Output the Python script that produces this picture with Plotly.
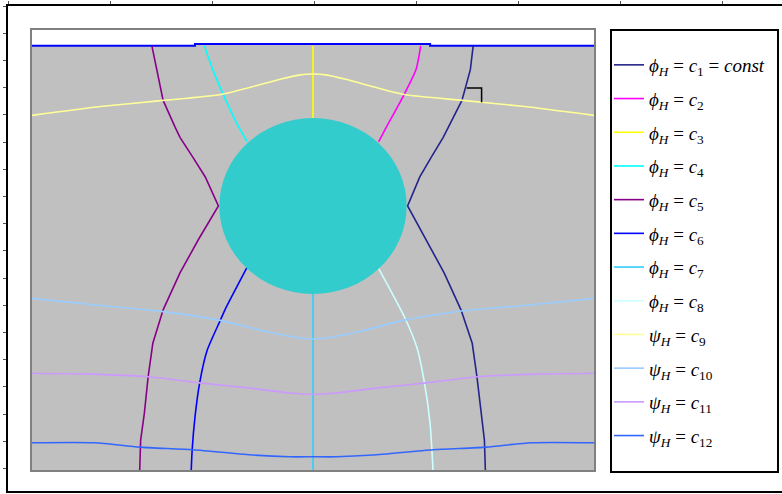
import plotly.graph_objects as go

# Field lines around a cylinder: phi_H = const (potential) and psi_H = const (stream)
# Coordinates are in units of the cylinder radius, centre at the origin.

PHI1_X = [1.71, 1.68, 1.59, 1.44, 1.39, 1.26, 1.14, 1.01, 1.20, 1.40, 1.58, 1.70, 1.75, 1.80, 1.83, 1.84]
PHI1_Y = [1.82, 1.55, 1.20, 0.89, 0.78, 0.55, 0.33, 0.00, -0.375, -0.76, -1.18, -1.56, -1.94, -2.35, -2.66, -3.0]

PHI2_X = [1.15, 1.10, 0.96, 0.78, 0.70]
PHI2_Y = [1.82, 1.55, 1.24, 0.89, 0.73]

PHI3_X = [0.0, 0.0]
PHI3_Y = [1.82, 1.0]

PHI4_X = [-1.16, -1.07, -0.93, -0.79, -0.70]
PHI4_Y = [1.82, 1.55, 1.20, 0.89, 0.73]

PHI5_X = [-1.72, -1.67, -1.60, -1.47, -1.42, -1.28, -1.15, -1.01, -1.22, -1.42, -1.60, -1.71, -1.76, -1.80, -1.84, -1.85]
PHI5_Y = [1.82, 1.55, 1.20, 0.89, 0.78, 0.55, 0.33, 0.00, -0.375, -0.76, -1.18, -1.56, -1.94, -2.35, -2.66, -3.0]

PHI6_X = [-0.70, -0.94, -0.99, -1.13, -1.21, -1.26, -1.29, -1.30]
PHI6_Y = [-0.69, -1.18, -1.30, -1.64, -2.01, -2.40, -2.77, -3.0]

PHI7_X = [0.0, 0.0]
PHI7_Y = [-1.0, -3.0]

PHI8_X = [0.69, 0.98, 1.11, 1.19, 1.25, 1.28, 1.28]
PHI8_Y = [-0.69, -1.27, -1.61, -2.01, -2.47, -2.98, -3.0]

PSI9_X = [-3.0, -2.27, -1.60, -0.97, -0.35, -0.14, 0.0, 0.14, 0.35, 0.96, 1.60, 2.26, 3.0]
PSI9_Y = [1.03, 1.13, 1.20, 1.27, 1.44, 1.49, 1.50, 1.49, 1.44, 1.27, 1.20, 1.13, 1.03]

PSI10_X = [-3.0, -2.27, -1.60, -0.99, -0.49, -0.14, 0.0, 0.14, 0.49, 0.96, 1.60, 2.26, 3.0]
PSI10_Y = [-1.05, -1.13, -1.20, -1.30, -1.43, -1.50, -1.51, -1.50, -1.43, -1.30, -1.19, -1.13, -1.05]

PSI11_X = [-3.0, -2.38, -1.76, -1.21, -0.67, -0.25, 0.0, 0.25, 0.67, 1.21, 1.76, 2.38, 3.0]
PSI11_Y = [-1.90, -1.91, -1.94, -2.01, -2.07, -2.125, -2.14, -2.125, -2.07, -2.01, -1.94, -1.91, -1.90]

PSI12_X = [-3.0, -2.33, -1.85, -1.28, -0.64, -0.25, 0.0, 0.25, 0.64, 1.28, 1.85, 2.33, 3.0]
PSI12_Y = [-2.69, -2.69, -2.74, -2.77, -2.83, -2.85, -2.85, -2.85, -2.83, -2.77, -2.74, -2.69, -2.69]

# Upper boundary of the flow region
WALL_X = [-3.0, -1.26, -1.26, 1.25, 1.25, 3.0]
WALL_Y = [1.82, 1.82, 1.84, 1.84, 1.82, 1.82]
FLOOR_X = [-3.0, 3.0]
FLOOR_Y = [-3.0, -3.0]

# Right-angle marker where phi_1 crosses psi_9
CORNER_X = [1.64, 1.80, 1.80]
CORNER_Y = [1.34, 1.34, 1.18]

CYL_R = 1.0

LABELS = [
    "<i>ϕ<sub>H</sub></i> = <i>c</i><sub>1</sub> = <i>const</i>",
    "<i>ϕ<sub>H</sub></i> = <i>c</i><sub>2</sub>",
    "<i>ϕ<sub>H</sub></i> = <i>c</i><sub>3</sub>",
    "<i>ϕ<sub>H</sub></i> = <i>c</i><sub>4</sub>",
    "<i>ϕ<sub>H</sub></i> = <i>c</i><sub>5</sub>",
    "<i>ϕ<sub>H</sub></i> = <i>c</i><sub>6</sub>",
    "<i>ϕ<sub>H</sub></i> = <i>c</i><sub>7</sub>",
    "<i>ϕ<sub>H</sub></i> = <i>c</i><sub>8</sub>",
    "<i>ψ<sub>H</sub></i> = <i>c</i><sub>9</sub>",
    "<i>ψ<sub>H</sub></i> = <i>c</i><sub>10</sub>",
    "<i>ψ<sub>H</sub></i> = <i>c</i><sub>11</sub>",
    "<i>ψ<sub>H</sub></i> = <i>c</i><sub>12</sub>",
]
COLORS = ["#24248C", "#FF00FF", "#FFFF00", "#00FFFF", "#880088", "#0000FF",
          "#33CCFF", "#CCFFFF", "#FFFF99", "#99CCFF", "#CC99FF", "#3366FF"]

CURVES = [
    (PHI1_X, PHI1_Y), (PHI2_X, PHI2_Y), (PHI3_X, PHI3_Y), (PHI4_X, PHI4_Y),
    (PHI5_X, PHI5_Y), (PHI6_X, PHI6_Y), (PHI7_X, PHI7_Y), (PHI8_X, PHI8_Y),
    (PSI9_X, PSI9_Y), (PSI10_X, PSI10_Y), (PSI11_X, PSI11_Y), (PSI12_X, PSI12_Y),
]
# lines with a sharp kink where they touch the cylinder stay polygonal
SHAPES = ["linear", "spline", "linear", "spline", "linear", "spline",
          "linear", "spline", "spline", "spline", "spline", "spline"]

W, H = 782, 494
M_L, M_T, M_R, M_B = 8, 6, 0, 3
PW, PH = W - M_L - M_R, H - M_T - M_B


def px_x(p):
    return (p - M_L) / PW


def px_y(p):
    return (H - M_B - p) / PH


fig = go.Figure()

# grey flow region below the wall
fig.add_trace(go.Scatter(x=FLOOR_X, y=FLOOR_Y, mode="lines", line=dict(width=0),
                         showlegend=False, hoverinfo="skip"))
fig.add_trace(go.Scatter(x=WALL_X, y=WALL_Y, mode="lines", fill="tonexty",
                         fillcolor="#C0C0C0", line=dict(color="#0000FF", width=2),
                         showlegend=False, hoverinfo="skip"))

for i, ((cx, cy), name, col, shp) in enumerate(zip(CURVES, LABELS, COLORS, SHAPES)):
    fig.add_trace(go.Scatter(x=cx, y=cy, mode="lines", name=name,
                             legendgroup=f"g{i}",
                             line=dict(color=col, width=1.6, shape=shp, smoothing=0.6)))

fig.add_trace(go.Scatter(x=CORNER_X, y=CORNER_Y, mode="lines",
                         line=dict(color="black", width=1.5),
                         showlegend=False, hoverinfo="skip"))

# frame axes around the whole chart
fig.add_trace(go.Scatter(x=[], y=[], xaxis="x2", yaxis="y2", showlegend=False))

fig.add_shape(type="circle", xref="x", yref="y", x0=-CYL_R, x1=CYL_R, y0=-CYL_R, y1=CYL_R,
              fillcolor="#33CCCC", line=dict(width=0), layer="above")

# legend frame
fig.add_shape(type="rect", xref="paper", yref="paper",
              x0=px_x(611), x1=px_x(778), y0=px_y(472), y1=px_y(30),
              line=dict(color="black", width=2), fillcolor="rgba(0,0,0,0)")

fig.update_layout(
    width=W, height=H,
    margin=dict(l=M_L, r=M_R, t=M_T, b=M_B),
    paper_bgcolor="white", plot_bgcolor="rgba(0,0,0,0)",
    font=dict(family="Liberation Serif", size=19, color="black"),
    showlegend=True,
    legend=dict(x=px_x(609), y=px_y(46), xanchor="left", yanchor="top",
                bgcolor="rgba(0,0,0,0)", borderwidth=0, tracegroupgap=6,
                traceorder="grouped",
                font=dict(family="Liberation Serif", size=19, color="black")),
    xaxis=dict(domain=[px_x(32), px_x(594)], range=[-3, 3], showgrid=False,
               zeroline=False, showticklabels=False, ticks="", showline=True,
               mirror=True, linecolor="#808080", linewidth=2),
    yaxis=dict(domain=[px_y(470), px_y(30)], range=[-3, 2], showgrid=False,
               zeroline=False, showticklabels=False, ticks="", showline=True,
               mirror=True, linecolor="#808080", linewidth=2),
    xaxis2=dict(domain=[0, 1], anchor="y2", side="top", range=[0, PW / 102.0],
                dtick=1, tick0=0, ticks="outside", ticklen=3, tickcolor="#555",
                showticklabels=False, showgrid=False, zeroline=False,
                showline=True, mirror=True, linecolor="black", linewidth=2),
    yaxis2=dict(domain=[0, 1], anchor="x2", range=[PH / 27.2, 0], dtick=1, tick0=0,
                ticks="outside", ticklen=3, tickcolor="#555", showticklabels=False,
                showgrid=False, zeroline=False, showline=True, mirror=False,
                linecolor="black", linewidth=2),
)

fig.write_html("out.html")
